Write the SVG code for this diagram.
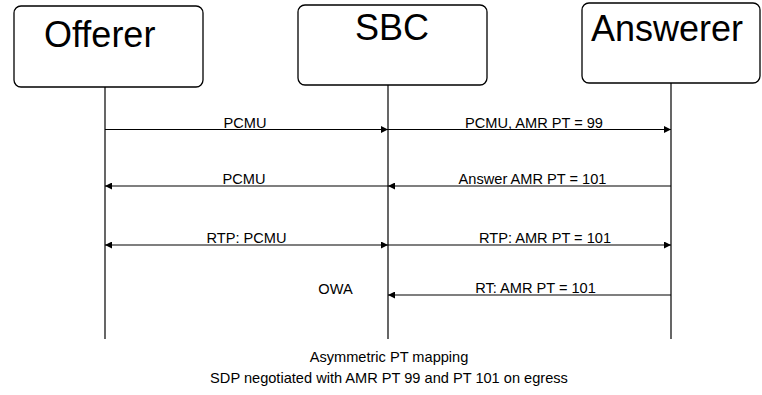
<svg xmlns="http://www.w3.org/2000/svg" width="762" height="395" viewBox="0 0 762 395">
<style>
.box{fill:#fff;stroke:#000;stroke-width:1.3}
.life{stroke:#000;stroke-width:1.2;fill:none}
.msg{stroke:#000;stroke-width:1.2;fill:none}
.big{font-family:"Liberation Sans",Arial,sans-serif;font-size:36px;fill:#000}
.lbl{font-family:"Liberation Sans",Arial,sans-serif;font-size:14.6px;fill:#000;text-anchor:middle}
</style>
<defs>
<marker id="ah" viewBox="0 0 10 10" refX="10" refY="5" markerWidth="8" markerHeight="7" markerUnits="userSpaceOnUse" orient="auto-start-reverse">
<path d="M0,0 L10,5 L0,10 z" fill="#000"/>
</marker>
</defs>
<g id="offerer">
<rect class="box" x="14" y="6" width="189" height="81" rx="7"/>
<text class="big" x="44" y="47">Offerer</text>
<line class="life" x1="105" y1="87" x2="105" y2="339"/>
</g>
<g id="sbc">
<rect class="box" x="298" y="5" width="189" height="80" rx="7"/>
<text class="big" x="355" y="40">SBC</text>
<line class="life" x1="388" y1="85" x2="388" y2="339"/>
</g>
<g id="answerer">
<rect class="box" x="582" y="3" width="178" height="80" rx="7"/>
<text class="big" x="591" y="41">Answerer</text>
<line class="life" x1="671" y1="83" x2="671" y2="339"/>
</g>
<g id="connectors">
<line class="msg" x1="105" y1="129.5" x2="388" y2="129.5" marker-end="url(#ah)"/>
<line class="msg" x1="388" y1="129.5" x2="671" y2="129.5" marker-end="url(#ah)"/>
<line class="msg" x1="388" y1="186" x2="105" y2="186" marker-end="url(#ah)"/>
<line class="msg" x1="671" y1="186" x2="388" y2="186" marker-end="url(#ah)"/>
<line class="msg" x1="105" y1="245" x2="388" y2="245" marker-start="url(#ah)" marker-end="url(#ah)"/>
<line class="msg" x1="388" y1="245" x2="671" y2="245" marker-end="url(#ah)"/>
<line class="msg" x1="671" y1="295" x2="388" y2="295" marker-end="url(#ah)"/>
</g>
<g id="labels">
<text class="lbl" x="245" y="128">PCMU</text>
<text class="lbl" x="534" y="128">PCMU, AMR PT = 99</text>
<text class="lbl" x="244" y="183.5">PCMU</text>
<text class="lbl" x="532.5" y="183.5">Answer AMR PT = 101</text>
<text class="lbl" x="246.5" y="243">RTP: PCMU</text>
<text class="lbl" x="545" y="243">RTP: AMR PT = 101</text>
<text class="lbl" x="335.5" y="294">OWA</text>
<text class="lbl" x="535.5" y="292.5">RT: AMR PT = 101</text>
<text class="lbl" x="389" y="362">Asymmetric PT mapping</text>
<text class="lbl" x="389" y="383">SDP negotiated with AMR PT 99 and PT 101 on egress</text>
</g>
</svg>
